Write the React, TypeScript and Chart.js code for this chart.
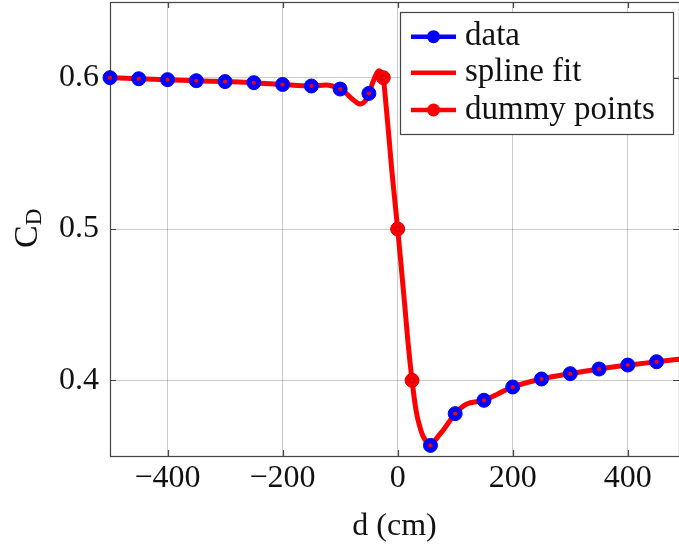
import React, { useEffect, useRef } from 'react';
import { Chart, registerables } from 'chart.js';

Chart.register(...registerables);

// ---- data ----
const dataX = [-500, -450, -400, -350, -300, -250, -200, -150, -100, -50, 57, 100, 150, 200, 250, 300, 350, 400, 450];
const dataY = [0.6, 0.5993, 0.5987, 0.598, 0.5974, 0.5967, 0.5955, 0.5945, 0.5925, 0.5896, 0.357, 0.378, 0.3868, 0.3956, 0.4009, 0.4044, 0.4075, 0.4101, 0.4123];

const dummyX = [-25, 0, 25];
const dummyY = [0.6, 0.5, 0.4];

const splineX = [-500, -450, -400, -350, -300, -250, -200, -150, -125, -100, -90, -80, -72, -65, -60, -55, -50, -45, -40, -35, -32, -28, -25, -20, -15, -10, -5, 0, 5, 12, 18, 25, 32, 38, 43, 49, 53, 57, 62, 70, 80, 100, 119, 150, 175, 200, 250, 300, 350, 400, 450, 489];
const splineY = [0.6, 0.5993, 0.5987, 0.598, 0.5974, 0.5967, 0.5955, 0.5945, 0.5952, 0.5925, 0.5898, 0.5862, 0.5838, 0.5826, 0.5832, 0.5855, 0.5896, 0.595, 0.6, 0.6038, 0.6045, 0.603, 0.6, 0.581, 0.56, 0.538, 0.519, 0.5, 0.48, 0.451, 0.425, 0.4, 0.38, 0.37, 0.364, 0.36, 0.3578, 0.357, 0.3588, 0.3628, 0.3675, 0.378, 0.3842, 0.3868, 0.3912, 0.3956, 0.4009, 0.4044, 0.4075, 0.4101, 0.4123, 0.4139];

const xTicks = [-400, -200, 0, 200, 400];
const yTicks = [0.4, 0.5, 0.6];
const xRange = [-500, 489];
const yRange = [0.35, 0.65];

const legendLabels = ['data', 'spline fit', 'dummy points'];
const xTitle = 'd (cm)';
const yTitleMain = 'C';
const yTitleSub = 'D';

const BLUE = '#0000ff';
const RED = '#ff0000';
const FONT = '"Liberation Serif", "Times New Roman", serif';

Chart.defaults.font.family = FONT;

const toPts = (xs: number[], ys: number[]) => xs.map((x, i) => ({ x, y: ys[i] }));

const framePlugin = {
  id: 'frame',
  beforeDatasetsDraw(chart: any) {
    const { ctx, chartArea: a, scales } = chart;
    const x = scales.x, y = scales.y;
    ctx.save();
    ctx.strokeStyle = '#444';
    ctx.lineWidth = 1.2;
    ctx.beginPath();
    for (const v of xTicks) {
      const px = Math.round(x.getPixelForValue(v)) + 0.5;
      ctx.moveTo(px, a.bottom);
      ctx.lineTo(px, a.bottom - 6);
      ctx.moveTo(px, a.top);
      ctx.lineTo(px, a.top + 6);
    }
    for (const v of yTicks) {
      const py = Math.round(y.getPixelForValue(v)) + 0.5;
      ctx.moveTo(a.left, py);
      ctx.lineTo(a.left + 6, py);
      ctx.moveTo(a.right, py);
      ctx.lineTo(a.right - 6, py);
    }
    ctx.stroke();
    ctx.strokeRect(a.left + 0.5, a.top + 0.5, a.right - a.left, a.bottom - a.top);
    ctx.restore();
  },
  afterDraw(chart: any) {
    const { ctx, chartArea: a } = chart;
    ctx.save();
    ctx.fillStyle = '#111';
    // x title
    ctx.font = `32px ${FONT}`;
    ctx.textAlign = 'center';
    ctx.textBaseline = 'middle';
    ctx.fillText(xTitle, (a.left + a.right) / 2, 527);
    // y title rotated with subscript
    ctx.translate(37, 248);
    ctx.rotate(-Math.PI / 2);
    ctx.textAlign = 'left';
    ctx.textBaseline = 'alphabetic';
    ctx.font = `34px ${FONT}`;
    ctx.fillText(yTitleMain, 0, 0);
    const w = ctx.measureText(yTitleMain).width;
    ctx.font = `23px ${FONT}`;
    ctx.fillText(yTitleSub, w, 4);
    ctx.restore();

    // legend
    ctx.save();
    ctx.fillStyle = '#fff';
    ctx.fillRect(400.5, 12.5, 273, 122);
    ctx.strokeStyle = '#444';
    ctx.lineWidth = 1.2;
    ctx.strokeRect(400.5, 12.5, 273, 122);
    const rows = [36.7, 72.7, 110];
    const colors = [BLUE, RED, RED];
    const marks = [true, false, true];
    rows.forEach((ry, i) => {
      ctx.strokeStyle = colors[i];
      ctx.lineWidth = 4.5;
      ctx.beginPath();
      ctx.moveTo(411, ry);
      ctx.lineTo(456, ry);
      ctx.stroke();
      if (marks[i]) {
        ctx.fillStyle = colors[i];
        ctx.beginPath();
        ctx.arc(433.5, ry, 6.5, 0, Math.PI * 2);
        ctx.fill();
      }
      ctx.fillStyle = '#111';
      ctx.font = `33px ${FONT}`;
      ctx.textAlign = 'left';
      ctx.textBaseline = 'alphabetic';
      ctx.fillText(legendLabels[i], 465, ry + 8.5);
    });
    ctx.restore();
  },
};

export default function App() {
  const ref = useRef<HTMLCanvasElement | null>(null);

  useEffect(() => {
    document.body.style.margin = '0';
    const canvas = ref.current!;
    const chart = new Chart(canvas, {
      type: 'line',
      data: {
        datasets: [
          {
            label: 'dummy center',
            data: toPts(dummyX, dummyY),
            showLine: false,
            pointRadius: 2.5,
            pointBackgroundColor: 'rgba(0,0,0,0)',
            pointBorderColor: 'rgba(110,0,90,0.55)',
            pointBorderWidth: 0.8,
            clip: false,
            order: 0,
          },
          {
            label: 'dummy points',
            data: toPts(dummyX, dummyY),
            showLine: false,
            pointRadius: 7,
            pointBackgroundColor: RED,
            pointBorderColor: '#d40000',
            pointBorderWidth: 1,
            clip: false,
            order: 1,
          },
          {
            label: 'data center',
            data: toPts(dataX, dataY),
            showLine: false,
            pointRadius: 2,
            pointBackgroundColor: RED,
            pointBorderWidth: 0,
            clip: false,
            order: 2,
          },
          {
            label: 'data',
            data: toPts(dataX, dataY),
            showLine: false,
            pointRadius: 7,
            pointBackgroundColor: BLUE,
            pointBorderColor: BLUE,
            pointBorderWidth: 1,
            clip: false,
            order: 3,
          },
          {
            label: 'spline fit',
            data: toPts(splineX, splineY),
            borderColor: RED,
            borderWidth: 5,
            pointRadius: 0,
            cubicInterpolationMode: 'monotone',
            borderCapStyle: 'round',
            borderJoinStyle: 'round',
            fill: false,
            order: 4,
          },
        ],
      },
      options: {
        responsive: false,
        animation: false,
        devicePixelRatio: 1,
        events: [],
        layout: { autoPadding: false, padding: { top: 2, left: 0, right: 0, bottom: 0 } },
        plugins: {
          legend: { display: false },
          tooltip: { enabled: false },
          title: { display: false },
        },
        scales: {
          x: {
            type: 'linear',
            min: xRange[0],
            max: xRange[1],
            afterBuildTicks: (s: any) => {
              s.ticks = xTicks.map((v) => ({ value: v }));
            },
            afterFit: (s: any) => {
              s.height = 90;
              s.paddingLeft = 0;
              s.paddingRight = 0;
            },
            grid: { color: 'rgba(0,0,0,0.2)', lineWidth: 1, drawTicks: false },
            border: { display: false },
            ticks: {
              padding: 3,
              color: '#111',
              font: { family: FONT, size: 32 },
              maxRotation: 0,
              callback: (v: any) => (v < 0 ? '\u2212' + Math.abs(v) : String(v)),
            },
          },
          y: {
            type: 'linear',
            min: yRange[0],
            max: yRange[1],
            afterBuildTicks: (s: any) => {
              s.ticks = yTicks.map((v) => ({ value: v }));
            },
            afterFit: (s: any) => {
              s.width = 110;
              s.paddingTop = 0;
              s.paddingBottom = 0;
            },
            grid: { color: 'rgba(0,0,0,0.2)', lineWidth: 1, drawTicks: false },
            border: { display: false },
            ticks: {
              padding: 11,
              color: '#111',
              font: { family: FONT, size: 32 },
              callback: (v: any) => Number(v).toFixed(1),
            },
          },
        },
      },
      plugins: [framePlugin],
    } as any);
    return () => chart.destroy();
  }, []);

  return (
    <div style={{ width: 679, height: 546 }}>
      <canvas ref={ref} width={679} height={546} style={{ display: 'block' }} />
    </div>
  );
}
